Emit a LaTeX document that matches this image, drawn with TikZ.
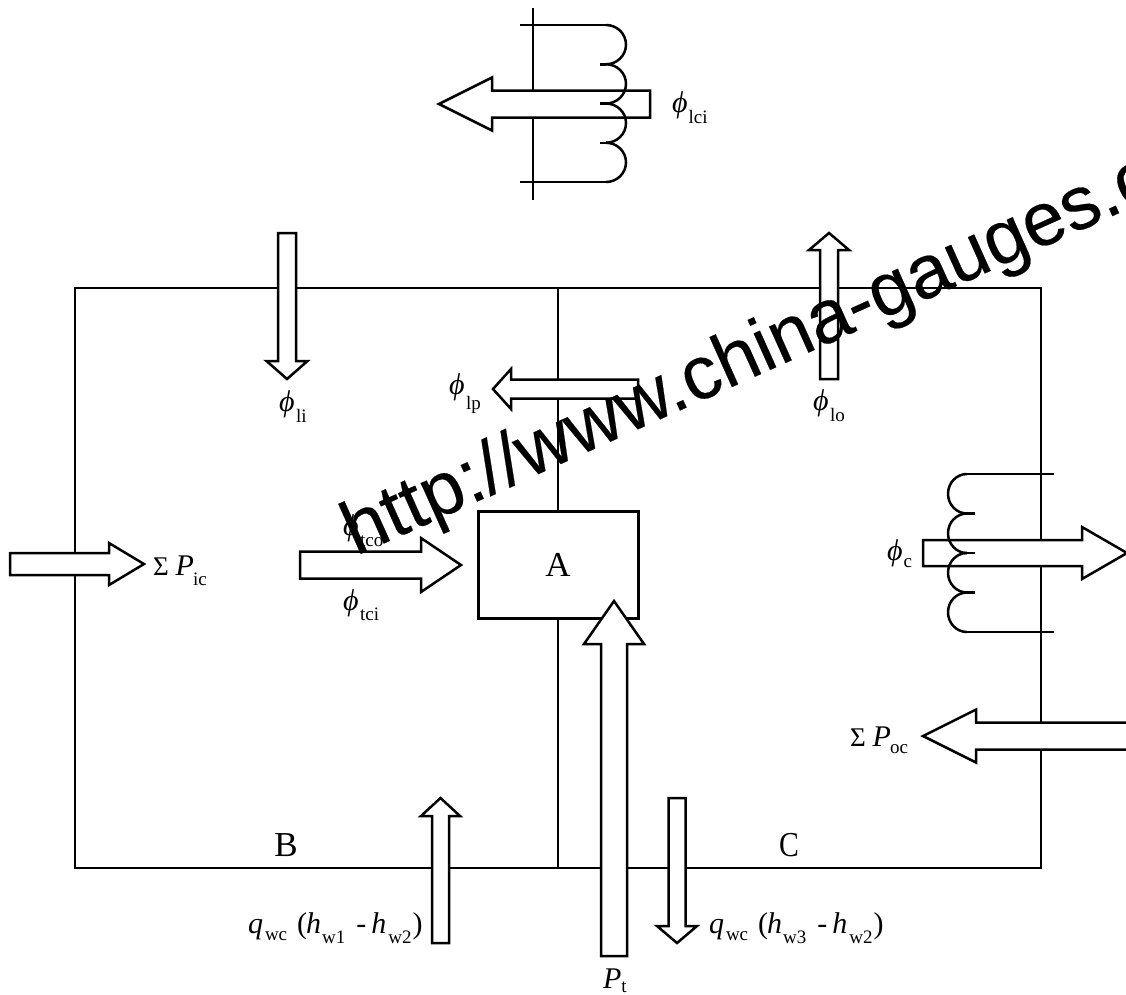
\documentclass[tikz,border=0pt]{standalone}
\usepackage{fontspec}
\setmainfont{Liberation Serif}
\newfontfamily\wmfont[FakeBold=0.25]{Liberation Sans}
\newcommand{\rmb}{\fontsize{30}{30}\selectfont}
\newcommand{\sym}[1]{{\rmb\itshape #1}}
\newcommand{\subs}[2]{\raisebox{-#1pt}{\fontsize{19}{19}\selectfont #2}}
\newcommand{\harrow}[6]{% tail x, base x, tip x, centre y, half shaft, half head
  \draw[blockarrow] (#1,#4-#5) -- (#2,#4-#5) -- (#2,#4-#6) -- (#3,#4) -- (#2,#4+#6) -- (#2,#4+#5) -- (#1,#4+#5) -- cycle;}
\newcommand{\varrow}[6]{% tail y, base y, tip y, centre x, half shaft, half head
  \draw[blockarrow] (#4-#5,#1) -- (#4-#5,#2) -- (#4-#6,#2) -- (#4,#3) -- (#4+#6,#2) -- (#4+#5,#2) -- (#4+#5,#1) -- cycle;}
\newcommand{\coil}[6]{% line start x, straight end x, bulge x, stub x, top y, pitch
  \draw[wall] (#1,#5) -- (#2,#5);
  \foreach \k in {0,1,2,3}{
    \pgfmathsetmacro{\ya}{#5+\k*#6}
    \pgfmathsetmacro{\yb}{\ya+#6/2}
    \pgfmathsetmacro{\yc}{\ya+#6}
    \pgfmathsetmacro{\ka}{\ya+0.224*#6}
    \pgfmathsetmacro{\kb}{\yc-0.224*#6}
    \pgfmathsetmacro{\xk}{#2+0.552*(#3-#2)}
    \draw[wall] (#2,\ya) .. controls (\xk,\ya) and (#3,\ka) .. (#3,\yb) .. controls (#3,\kb) and (\xk,\yc) .. (#2,\yc);
    \ifnum\k<3 \draw[wall] (#2,\yc) -- (#4,\yc); \fi
  }
  \draw[wall] (#2,#5+4*#6) -- (#1,#5+4*#6);}
\tikzset{
  wall/.style={draw=black,line width=2.5pt},
  blockarrow/.style={draw=black,fill=white,line width=2.5pt,line join=miter},
  lab/.style={inner sep=0pt,outer sep=0pt,text=black,anchor=base west},
  big/.style={inner sep=0pt,outer sep=0pt,text=black,font=\fontsize{35}{35}\selectfont}
}
\begin{document}
\begin{tikzpicture}[x=1pt,y=-1pt]
\useasboundingbox (0,0) rectangle (1126,994);
\clip (0,0) rectangle (1126,994);
\fill[white] (0,0) rectangle (1126,994);
% frame
\draw[wall] (75,288) rectangle (1041,868);
\draw[wall] (558,288) -- (558,868);
\node[draw=black,fill=white,line width=2.5pt,minimum width=160pt,minimum height=106.6pt,inner sep=0pt,outer sep=0pt,anchor=north west] (A) at (478.3,511.7) {};
\node[big] (labA) at (558,565) {A};
\node[big] (labB) at (286,845) {B};
\node[big,xscale=.85] (labC) at (789,845) {C};
% lci stem
\draw[wall] (533,8) -- (533,200);
% arrows
\harrow{650}{492}{439}{104}{13.5}{26.5}
\coil{520}{606}{626}{600}{25}{39.25}
\varrow{233}{361}{379}{287}{9}{20.5}
\varrow{379}{250}{233}{829}{9}{20}
\harrow{638}{511}{493}{389}{9.5}{20}
\harrow{10}{109}{144}{564}{11}{21}
\harrow{300}{421}{461}{565}{13.5}{27}
\harrow{923}{1082}{1127}{553}{13}{26}
\coil{1054}{967}{948}{975}{474}{39.5}
\harrow{1150}{976}{923}{736}{13.5}{26.5}
\varrow{956}{644}{601}{614}{13}{30}
\varrow{943}{816}{798}{440.5}{8.5}{19.5}
\varrow{798}{926}{943}{677}{8.5}{20}
% labels
\node[lab] (li) at (279,411) {\sym{ϕ}\hspace{1.5pt}\subs{11}{li}};
\node[lab] (lo) at (813,410) {\sym{ϕ}\hspace{1.5pt}\subs{11}{lo}};
\node[lab] (lp) at (449,394) {\sym{ϕ}\hspace{1.5pt}\subs{15}{lp}};
\node[lab] (lci) at (672,112) {\sym{ϕ}\hspace{1pt}\subs{11}{lci}};
\node[lab] (ic) at (153,575) {{\fontsize{27}{27}\selectfont Σ}\hspace{7pt}\sym{P}\hspace{-1pt}\subs{10}{ic}};
\node[lab] (tco) at (343,535) {\sym{ϕ}\hspace{1.5pt}\subs{11}{tco}};
\node[lab] (tci) at (343,610) {\sym{ϕ}\hspace{1.5pt}\subs{10}{tci}};
\node[lab] (c) at (887,560) {\sym{ϕ}\hspace{1pt}\subs{7}{c}};
\node[lab] (oc) at (850,746) {{\fontsize{27}{27}\selectfont Σ}\hspace{7pt}\sym{P}\hspace{-1pt}\subs{7}{oc}};
\node[lab] (pt) at (603,988) {\sym{P}\hspace{0pt}\subs{4}{t}};
\node[lab] (ql) at (248,933) {\sym{q}\hspace{2pt}\subs{7}{wc}\hspace{10pt}{\rmb(}\hspace{-1pt}\sym{h}\hspace{1pt}\subs{10}{w1}\hspace{11pt}{\rmb-}\hspace{5pt}\sym{h}\hspace{2pt}\subs{10}{w2}\hspace{1pt}{\rmb)}};
\node[lab] (qr) at (709,933) {\sym{q}\hspace{2pt}\subs{7}{wc}\hspace{10pt}{\rmb(}\hspace{-1pt}\sym{h}\hspace{1pt}\subs{10}{w3}\hspace{11pt}{\rmb-}\hspace{5pt}\sym{h}\hspace{2pt}\subs{10}{w2}\hspace{1pt}{\rmb)}};
% watermark
\node[lab,rotate=24.2,font=\wmfont\fontsize{75.5}{75.5}\selectfont] (wm) at (356,556) {http://www.china-gauges.com};
\end{tikzpicture}
\end{document}
